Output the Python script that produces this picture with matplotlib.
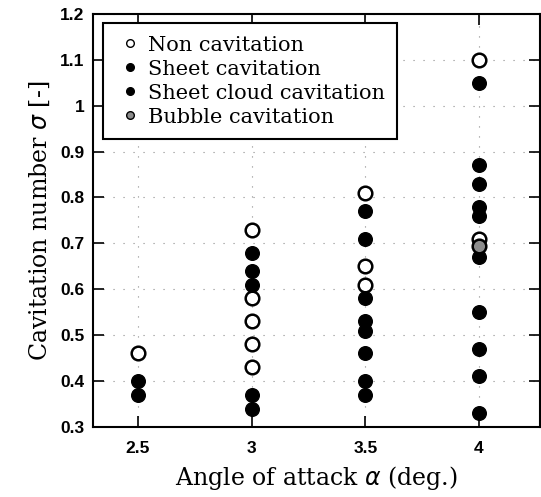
import matplotlib.pyplot as plt

# data
non_x = [2.5, 3, 3, 3, 3, 3, 3.5, 3.5, 3.5, 4, 4]
non_y = [0.46, 0.73, 0.58, 0.53, 0.48, 0.43, 0.81, 0.65, 0.61, 1.10, 0.71]

sheet_x = [2.5, 2.5, 3, 3, 3, 3, 3, 3.5, 3.5, 3.5, 3.5, 3.5, 3.5, 3.5, 3.5,
           4, 4, 4, 4, 4, 4, 4, 4, 4, 4]
sheet_y = [0.40, 0.37, 0.68, 0.64, 0.61, 0.37, 0.34, 0.77, 0.71, 0.58, 0.53, 0.51,
           0.46, 0.40, 0.37, 1.05, 0.87, 0.83, 0.78, 0.76, 0.67, 0.55, 0.47, 0.41, 0.33]

bubble_x = [4]
bubble_y = [0.695]

xticks = [2.5, 3, 3.5, 4]
xticklabels = ["2.5", "3", "3.5", "4"]
yticks = [0.3, 0.4, 0.5, 0.6, 0.7, 0.8, 0.9, 1.0, 1.1, 1.2]
yticklabels = ["0.3", "0.4", "0.5", "0.6", "0.7", "0.8", "0.9", "1", "1.1", "1.2"]

fig = plt.figure(figsize=(5.41, 4.97), dpi=100)
ax = fig.add_axes([0.172, 0.141, 0.826, 0.831])

ms = 9.8
ax.plot(non_x, non_y, "o", ms=ms, mfc="white", mec="black", mew=1.8, ls="none", zorder=3)
ax.plot(sheet_x, sheet_y, "o", ms=ms, mfc="black", mec="black", ls="none", zorder=3)
ax.plot(bubble_x, bubble_y, "o", ms=ms, mfc="0.55", mec="black", mew=1.8, ls="none", zorder=3)

# legend handles
h1, = ax.plot([], [], "o", ms=5.5, mfc="white", mec="black", mew=1.0, ls="none")
h2, = ax.plot([], [], "o", ms=5.5, mfc="black", mec="black", ls="none")
h3, = ax.plot([], [], "o", ms=5.5, mfc="black", mec="black", ls="none")
h4, = ax.plot([], [], "o", ms=5.5, mfc="0.55", mec="black", mew=1.0, ls="none")
leg = ax.legend([h1, h2, h3, h4],
                ["Non cavitation", "Sheet cavitation", "Sheet cloud cavitation", "Bubble cavitation"],
                loc="upper left", bbox_to_anchor=(0.022, 0.978), fancybox=False,
                edgecolor="black", framealpha=1, handlelength=1.4, handletextpad=0.15,
                labelspacing=0.24, borderpad=0.6, borderaxespad=0,
                prop={"family": "DejaVu Serif", "size": 15})
leg.get_frame().set_linewidth(1.5)

ax.set_xlim(2.302, 4.268)
ax.set_ylim(0.3, 1.2)
ax.set_xticks(xticks)
ax.set_xticklabels(xticklabels, fontfamily="Liberation Sans", fontweight="bold", fontsize=12.5)
ax.set_yticks(yticks)
ax.set_yticklabels(yticklabels, fontfamily="Liberation Sans", fontweight="bold", fontsize=12.5)
ax.tick_params(direction="in", length=8, width=1.2, top=True, right=True, pad=6)
ax.tick_params(axis="x", pad=10)
ax.grid(True, ls=(0, (1, 8)), color="0.55", lw=0.8)
for s in ax.spines.values():
    s.set_linewidth(1.5)

ax.set_xlabel(r"Angle of attack $\alpha$ (deg.)", fontfamily="DejaVu Serif", fontsize=17, labelpad=6)
ax.set_ylabel(r"Cavitation number $\sigma$ [-]", fontfamily="DejaVu Serif", fontsize=17, labelpad=6)

fig.savefig("out.png", dpi=100)
